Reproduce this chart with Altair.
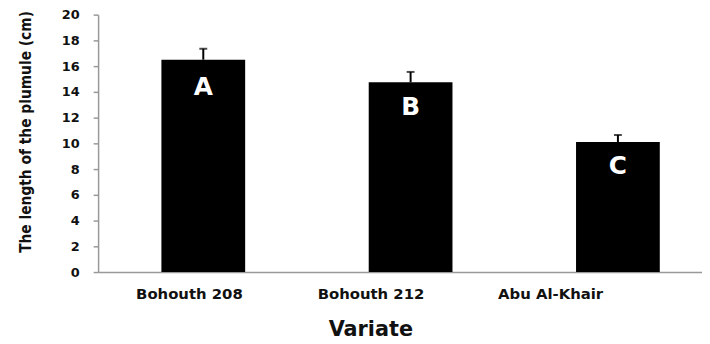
import altair as alt
import pandas as pd

varieties = ["Bohouth 208", "Bohouth 212", "Abu Al-Khair"]
means = [16.5, 14.75, 10.1]
errors = [0.85, 0.8, 0.55]
letters = ["A", "B", "C"]
letter_pos = [14.4, 12.85, 8.2]

df = pd.DataFrame({
    "variety": varieties,
    "mean": means,
    "top": [m + e for m, e in zip(means, errors)],
    "letter": letters,
    "lpos": letter_pos,
})

xscale = alt.Scale(domain=varieties, paddingInner=0.596, paddingOuter=0.2545, align=0.6)
label_shift = alt.ExprRef(
    expr="datum.value == 'Bohouth 208' ? -14 : (datum.value == 'Bohouth 212' ? -40 : -68)")
xenc = alt.X("variety:N", sort=varieties, scale=xscale,
             axis=alt.Axis(title="Variate", labelAngle=0, ticks=False,
                           labelFont="DejaVu Sans", labelFontWeight="bold", labelFontSize=15,
                           labelColor="#111", labelPadding=15, labelOffset=label_shift,
                           titleFont="DejaVu Sans", titleFontWeight="bold", titleFontSize=21,
                           titleColor="#111", titleX=275, titleAlign="center",
                           titleY=58, titleBaseline="middle",
                           domainColor="#999", domainWidth=1.5))

yaxis = alt.Axis(title="The length of the plumule (cm)", values=list(range(0, 21, 2)),
                 grid=False, tickSize=5, tickColor="#999", domainColor="#999",
                 domainWidth=1.5, tickWidth=1.5, labelOverlap=False,
                 labelFont="DejaVu Sans", labelFontWeight="bold", labelFontSize=13,
                 labelColor="#111", labelPadding=14,
                 titleFont="DejaVu Sans Condensed", titleFontWeight="bold",
                 titleFontSize=15.5, titleColor="#111", titleX=-73, titleY=118,
                 titleAngle=270, titleAlign="center", titleBaseline="middle")
yscale = alt.Scale(domain=[0, 20])

bars = alt.Chart(df).mark_bar(color="black").encode(
    x=xenc,
    y=alt.Y("mean:Q", scale=yscale, axis=yaxis),
)

err = alt.Chart(df).mark_rule(color="black", strokeWidth=2).encode(
    x=xenc, y=alt.Y("mean:Q", scale=yscale, axis=yaxis), y2="top:Q")

caps = alt.Chart(df).mark_tick(color="black", thickness=2, size=8, orient="horizontal").encode(
    x=xenc, y=alt.Y("top:Q", scale=yscale, axis=yaxis))

text = alt.Chart(df).mark_text(color="white", font="DejaVu Sans", fontWeight="bold",
                               fontSize=25, baseline="middle").encode(
    x=xenc, y=alt.Y("lpos:Q", scale=yscale, axis=yaxis), text="letter:N")

chart = alt.layer(bars, err, caps, text).properties(
    width=610, height=260,
    autosize=alt.AutoSizeParams(type="none"),
    padding={"left": 91, "top": 5, "right": 0, "bottom": 75},
).configure_view(stroke=None)

chart.save("out.html", embed_options={"renderer": "svg", "actions": False})
